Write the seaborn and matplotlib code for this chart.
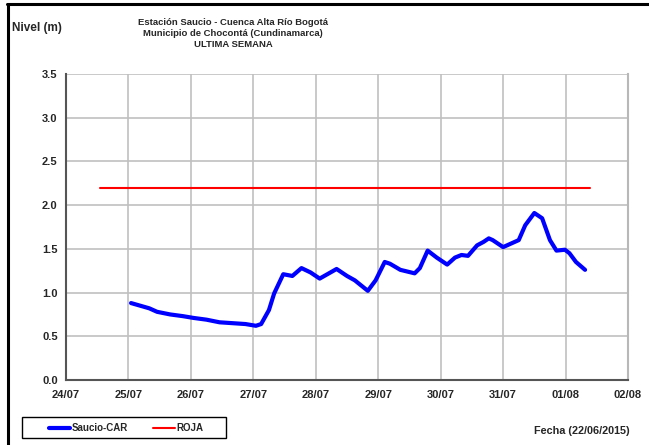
import pandas as pd
import matplotlib
matplotlib.use('Agg')
import matplotlib.pyplot as plt
import matplotlib.dates as mdates
from matplotlib.lines import Line2D
from matplotlib.patches import Rectangle
import seaborn as sns

# Nivel Saucio-CAR (m)
fechas = ['2015-07-25 01:00', '2015-07-25 08:00', '2015-07-25 11:00', '2015-07-25 16:00',
          '2015-07-25 21:00', '2015-07-26 01:00', '2015-07-26 06:00', '2015-07-26 11:00',
          '2015-07-26 16:00', '2015-07-26 21:00', '2015-07-27 01:00', '2015-07-27 03:00',
          '2015-07-27 06:00', '2015-07-27 08:00', '2015-07-27 11:30', '2015-07-27 15:00',
          '2015-07-27 18:30', '2015-07-27 22:00', '2015-07-28 01:30', '2015-07-28 08:00',
          '2015-07-28 12:00', '2015-07-28 15:00', '2015-07-28 20:00', '2015-07-28 23:00',
          '2015-07-29 02:30', '2015-07-29 04:30', '2015-07-29 08:30', '2015-07-29 14:00',
          '2015-07-29 16:00', '2015-07-29 19:00', '2015-07-29 22:30', '2015-07-30 02:30',
          '2015-07-30 05:30', '2015-07-30 08:00', '2015-07-30 10:30', '2015-07-30 14:00',
          '2015-07-30 16:30', '2015-07-30 18:30', '2015-07-30 20:00', '2015-07-31 00:00',
          '2015-07-31 03:00', '2015-07-31 06:00', '2015-07-31 08:30', '2015-07-31 12:00',
          '2015-07-31 15:00', '2015-07-31 18:00', '2015-07-31 20:30', '2015-07-31 23:45',
          '2015-08-01 01:30', '2015-08-01 04:00', '2015-08-01 07:30']
nivel = [0.88, 0.82, 0.78, 0.75, 0.73, 0.71, 0.69, 0.66, 0.65, 0.64, 0.62, 0.64,
         0.80, 0.99, 1.21, 1.19, 1.28, 1.23, 1.16, 1.27, 1.19, 1.14, 1.02, 1.14,
         1.35, 1.33, 1.26, 1.22, 1.28, 1.48, 1.40, 1.32, 1.40, 1.43, 1.42, 1.54,
         1.58, 1.62, 1.60, 1.52, 1.56, 1.60, 1.77, 1.91, 1.85, 1.60, 1.48, 1.49,
         1.45, 1.35, 1.26]

# Umbral de alerta roja
roja_fechas = ['2015-07-24 13:00', '2015-08-01 09:30']
roja_nivel = [2.2, 2.2]

dias = pd.date_range('2015-07-24', '2015-08-02', freq='D')

df = pd.DataFrame({'fecha': pd.to_datetime(fechas), 'nivel': nivel})
df_roja = pd.DataFrame({'fecha': pd.to_datetime(roja_fechas), 'nivel': roja_nivel})

sns.set_style('white')
plt.rcParams['font.family'] = ['Liberation Sans', 'DejaVu Sans']
plt.rcParams['font.weight'] = 'bold'

fig = plt.figure(figsize=(6.49, 4.45), dpi=100)
ax = fig.add_axes([66 / 649, 1 - 380 / 445, (628 - 66) / 649, (380 - 74) / 445])

sns.lineplot(data=df, x='fecha', y='nivel', ax=ax, color='#0000ff', linewidth=3,
             solid_joinstyle='round', solid_capstyle='round')
sns.lineplot(data=df_roja, x='fecha', y='nivel', ax=ax, color='#ff0000', linewidth=1.5)

ax.set_xlim(dias[0], dias[-1])
ax.set_ylim(0, 3.5)
ax.set_xticks(dias)
ax.xaxis.set_major_formatter(mdates.DateFormatter('%d/%m'))
ax.set_yticks([0, 0.5, 1.0, 1.5, 2.0, 2.5, 3.0, 3.5])
ax.yaxis.set_major_formatter(matplotlib.ticker.FormatStrFormatter('%.1f'))
ax.set_xlabel('')
ax.set_ylabel('')
ax.grid(True, color='#c0c0c0', linewidth=1.2)
ax.set_axisbelow(True)
ax.tick_params(axis='both', labelsize=8, length=3, width=1, color='#555555',
               direction='out', pad=3)
ax.tick_params(axis='x', pad=4)
for lab in ax.get_xticklabels() + ax.get_yticklabels():
    lab.set_fontweight('bold')
for side in ['left', 'bottom']:
    ax.spines[side].set_color('#555555')
    ax.spines[side].set_linewidth(1.5)
ax.spines['right'].set_color('#b8b8b8')
ax.spines['right'].set_linewidth(1.5)
ax.spines['top'].set_visible(False)

# Titulos
fig.text(233 / 649, 1 - 33.5 / 445,
         'Estación Saucio - Cuenca Alta Río Bogotá\nMunicipio de Chocontá (Cundinamarca)\nULTIMA SEMANA',
         ha='center', va='center', fontsize=6.8, fontweight='bold', linespacing=1.25)
fig.text(12 / 649, 1 - 28 / 445, 'Nivel (m)', ha='left', va='center',
         fontsize=8.5, fontweight='bold')
fig.text(630 / 649, 1 - 431 / 445, 'Fecha (22/06/2015)', ha='right', va='center',
         fontsize=7.8, fontweight='bold')

# Leyenda
fig.add_artist(Rectangle((22 / 649, 1 - 438 / 445), (226 - 22) / 649, 21 / 445,
                         transform=fig.transFigure, facecolor='white',
                         edgecolor='black', linewidth=1))
handles = [Line2D([], [], color='#0000ff', linewidth=3),
           Line2D([], [], color='#ff0000', linewidth=1.5)]
fig.legend(handles, ['Saucio-CAR', 'ROJA'], loc='center',
           bbox_to_anchor=(126 / 649, 1 - 428 / 445),
           ncol=2, frameon=False, prop={'size': 7, 'weight': 'bold'},
           handlelength=2.2, handletextpad=0.15, columnspacing=2.6, borderaxespad=0)

# Marco exterior (izquierda y arriba)
fig.add_artist(Line2D([7.5 / 649, 7.5 / 649], [0, 1 - 4 / 445], color='black', linewidth=2.2,
                      transform=fig.transFigure))
fig.add_artist(Line2D([6.5 / 649, 1], [1 - 4 / 445, 1 - 4 / 445], color='black', linewidth=2.2,
                      transform=fig.transFigure))

fig.savefig('out.png', dpi=100)
